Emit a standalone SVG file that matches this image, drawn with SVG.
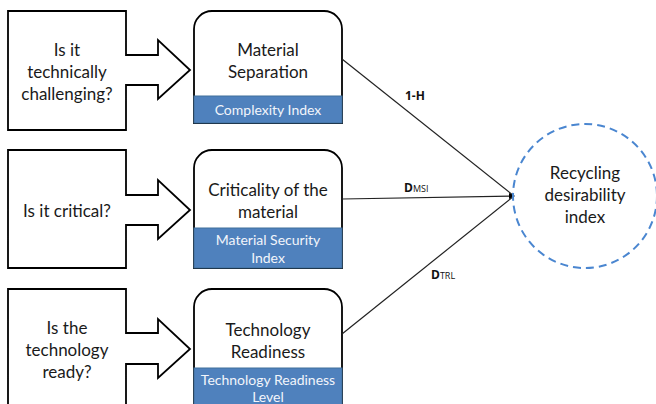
<svg xmlns="http://www.w3.org/2000/svg" width="656" height="404" viewBox="0 0 656 404">
<defs>
<style>
.q{fill:#fff;stroke:#000;stroke-width:1.8;stroke-linejoin:miter}
.card{fill:#fff;stroke:#000;stroke-width:1.8}
.band{fill:#4f81bd;stroke:#41719c;stroke-width:1}
.t{font-family:Lato,"Open Sans",sans-serif;font-size:17px;fill:#1a1a1a;text-anchor:middle}
.bt{font-family:Lato,"Open Sans",sans-serif;font-size:14px;fill:#f2f5fb;text-anchor:middle}
.lbl{font-family:"Open Sans",sans-serif;font-weight:bold;font-size:12px;fill:#111}
.sub{font-size:9px;font-weight:normal}
.con{stroke:#222;stroke-width:1.2;fill:none}
</style>
<marker id="ah" markerWidth="6" markerHeight="6" refX="5" refY="3" orient="auto" markerUnits="userSpaceOnUse">
<path d="M0,0 L6,3 L0,6 Z" fill="#000"/>
</marker>
<clipPath id="c3"><rect x="190" y="285" width="160" height="119"/></clipPath>
</defs>

<g id="q1">
<path class="q" d="M8,11 H126 V55 H158 V40 L190,70 L158,99 V85 H126 V130 H8 Z"/>
<text class="t" x="67" y="56">Is it</text>
<text class="t" x="67" y="78">technically</text>
<text class="t" x="67" y="100">challenging?</text>
</g>

<g id="q2">
<path class="q" d="M8,150 H126 V195 H158 V180 L190,210 L158,239 V225 H126 V268 H8 Z"/>
<text class="t" x="67" y="217">Is it critical?</text>
</g>

<g id="q3">
<path class="q" d="M8,289 H126 V333 H158 V319 L190,349 L158,378 V364 H126 V410 H8 Z"/>
<text class="t" x="67" y="334">Is the</text>
<text class="t" x="67" y="356">technology</text>
<text class="t" x="67" y="378">ready?</text>
</g>

<g id="n1">
<path class="card" d="M194,123 V29 A18,18 0 0 1 212,11 H324 A18,18 0 0 1 342,29 V123 Z"/>
<rect class="band" x="194" y="96" width="148" height="27"/>
<text class="t" x="268" y="56">Material</text>
<text class="t" x="268" y="78">Separation</text>
<text class="bt" x="268" y="115">Complexity Index</text>
</g>

<g id="n2">
<path class="card" d="M194,268 V168 A18,18 0 0 1 212,150 H324 A18,18 0 0 1 342,168 V268 Z"/>
<rect class="band" x="194" y="228" width="148" height="40"/>
<text class="t" x="268" y="196">Criticality of the</text>
<text class="t" x="268" y="218">material</text>
<text class="bt" x="268" y="245">Material Security</text>
<text class="bt" x="268" y="263">Index</text>
</g>

<g id="n3" clip-path="url(#c3)">
<path class="card" d="M194,420 V307 A18,18 0 0 1 212,289 H324 A18,18 0 0 1 342,307 V420 Z"/>
<rect class="band" x="194" y="368" width="148" height="50"/>
<text class="t" x="268" y="336">Technology</text>
<text class="t" x="268" y="358">Readiness</text>
<text class="bt" x="268" y="385">Technology Readiness</text>
<text class="bt" x="268" y="402">Level</text>
</g>

<g id="connectors">
<line class="con" x1="342" y1="59" x2="514" y2="196"/>
<line class="con" x1="342" y1="199" x2="514" y2="196" marker-end="url(#ah)"/>
<line class="con" x1="342" y1="334" x2="514" y2="196"/>
<text class="lbl" x="405" y="100">1-H</text>
<text class="lbl" x="404" y="192" font-size="13">D<tspan class="sub">MSI</tspan></text>
<text class="lbl" x="431" y="279" font-size="13">D<tspan class="sub">TRL</tspan></text>
</g>

<g id="rdi">
<circle cx="585" cy="196" r="72" fill="none" stroke="#4a86d0" stroke-width="2" stroke-dasharray="8,5"/>
<text class="t" x="585" y="179">Recycling</text>
<text class="t" x="585" y="201">desirability</text>
<text class="t" x="585" y="223">index</text>
</g>
</svg>
